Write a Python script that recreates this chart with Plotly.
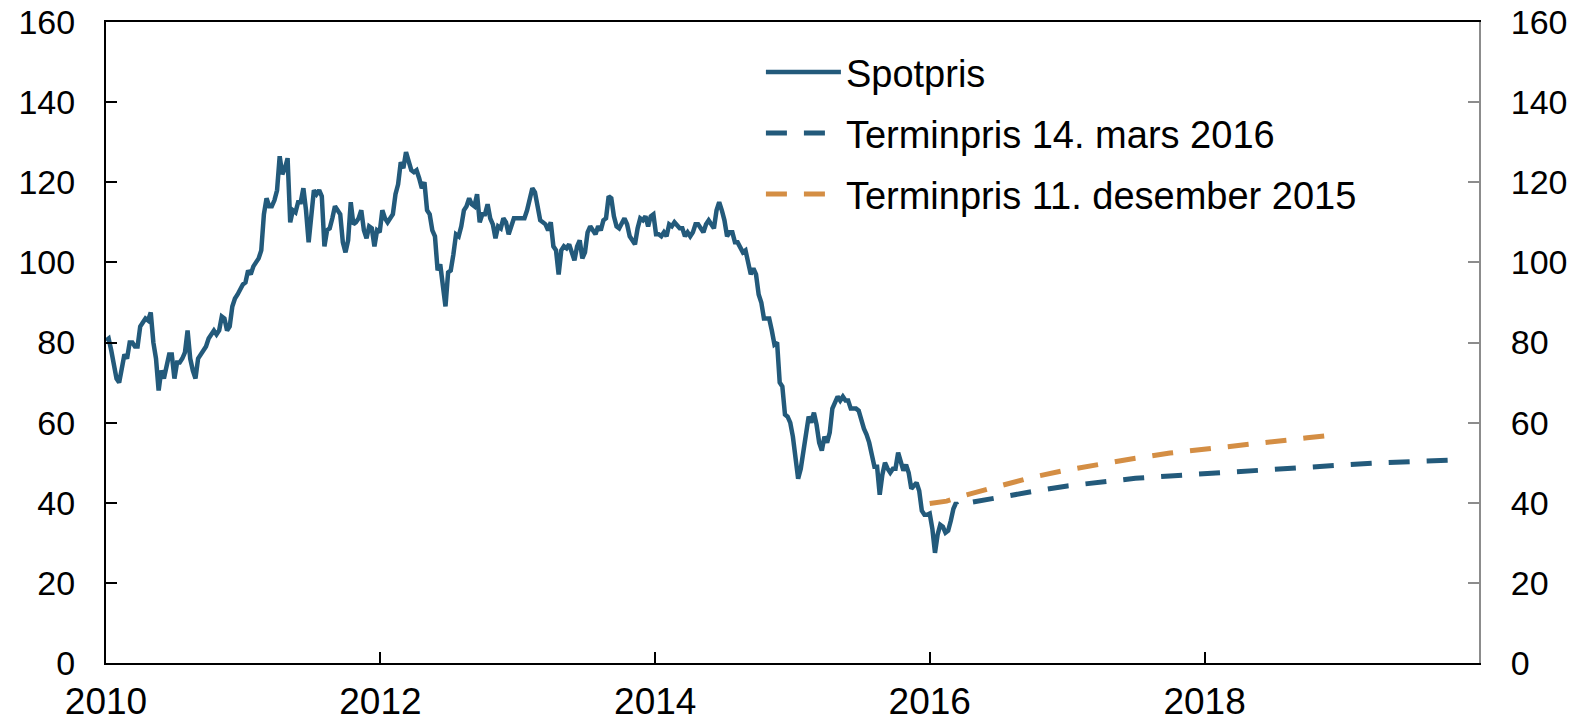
import pandas as pd
import plotly.graph_objects as go

# ---------------- data (weekly readings of the spot line) ----------------
spot_2010 = [80.5, 81, 78, 74, 71, 70, 74, 77, 76, 80, 80, 79, 79, 84, 85, 86, 85.5, 87.5,
             80, 76, 68, 73, 71, 74, 77, 77, 71, 75, 75, 76, 77.5, 83, 76, 73, 71,
             76, 77, 78, 79, 81, 82, 83, 82, 83, 86.5, 86, 83, 84, 89, 91, 92, 93.5, 94.5]
spot_2011 = [95, 98, 97, 99, 100, 101, 103, 112, 116, 114, 114, 115.5, 118, 126.5, 122,
             123.5, 126, 110, 113, 112.5, 115, 115, 118.5, 113, 105, 111, 118, 117, 118,
             116.5, 104, 108, 108.5, 111, 114, 113, 112, 105, 102.5, 105.5, 115, 109.5,
             110, 111, 113, 108, 106, 109, 108.5, 104, 108, 107.5]
spot_2012 = [113, 111, 110, 111, 112, 117, 119.5, 125, 123.5, 127.5, 125, 123, 122.5, 123,
             121, 118.5, 120, 113, 112, 108, 106.5, 98, 99.5, 95, 89, 97.5, 98, 102, 107,
             106.5, 109, 113, 114, 116, 114.5, 114, 117, 110, 112, 112, 114.5, 111, 109.5,
             106, 109, 108.5, 111, 110, 107, 109, 111, 111]
spot_2013 = [111, 111, 111, 113, 116, 118.5, 117.5, 114, 110.5, 110, 109.5, 108, 110, 104,
             103, 97, 103, 104, 103.5, 104.5, 102.5, 100.5, 104, 105.5, 101, 102.5, 107.5,
             109, 108, 107, 109, 108, 110.5, 111, 116.5, 116, 111.5, 109, 108.5, 109.5, 111,
             109.5, 106.5, 105.5, 104.5, 108.5, 111, 110.5, 111.5, 109, 111.5, 112]
spot_2014 = [107, 107, 106.5, 107.5, 106.5, 109.5, 109, 110, 109, 108.5, 108.5, 106.5,
             107.5, 106.5, 107.5, 109.5, 109.5, 108.5, 107.5, 109.5, 110.5, 109.5, 108.5,
             113, 115, 113, 110.5, 106.5, 107.5, 107.5, 105, 105, 103.5, 102.5, 103, 100.5,
             97, 98.5, 97, 92, 90, 86, 86, 86, 83, 79.5, 80, 70, 69, 62, 61.5, 60]
spot_2015 = [56.5, 50, 46, 48.5, 52.5, 57.5, 61.5, 60, 62.5, 59.5, 55, 53, 56.5, 55, 57.5,
             63.5, 65, 66.5, 65.5, 66.5, 65.5, 65.5, 63.5, 63.5, 63.5, 63, 60.5, 58.5, 57,
             55, 52, 49, 49, 42, 47, 50, 48.5, 47.5, 48.5, 48.5, 52.5, 50.5, 48, 49.5,
             47.5, 43.5, 44.5, 45, 43, 38, 37, 37]
spot_2016 = [37.3, 33.5, 27.5, 32, 34.5, 34, 32.5, 33, 35.5, 38.5, 40]
spot_first_fridays = ["2010-01-01", "2011-01-07", "2012-01-06", "2013-01-04",
                      "2014-01-03", "2015-01-02", "2016-01-01"]
spot_last = ("2016-03-14", 39.5)

termin_mar16_dates = ["2016-04-25", "2016-07-01", "2016-10-01", "2017-01-01", "2017-04-01",
                      "2017-07-01", "2017-10-01", "2018-01-01", "2018-04-01", "2018-07-01",
                      "2018-10-01", "2019-01-01", "2019-04-01", "2019-07-01", "2019-10-31"]
termin_mar16 = [40.2, 41.4, 42.8, 44.2, 45.3, 46.1, 46.7, 47.3, 47.9, 48.4, 48.9, 49.4,
                49.9, 50.3, 50.7]

termin_des15_dates = ["2016-01-01", "2016-02-15", "2016-04-01", "2016-07-01", "2016-10-01",
                      "2017-01-01", "2017-04-01", "2017-07-01", "2017-10-01", "2018-01-01",
                      "2018-04-01", "2018-07-01", "2018-10-01", "2018-11-20"]
termin_des15 = [39.8, 40.4, 41.8, 44.2, 46.4, 48.2, 49.8, 51.1, 52.4, 53.4, 54.5, 55.4,
                56.2, 56.7]

x_tick_vals = ["2010-01-01", "2012-01-01", "2014-01-01", "2016-01-01", "2018-01-01"]
x_tick_text = ["2010", "2012", "2014", "2016", "2018"]
y_ticks = [0, 20, 40, 60, 80, 100, 120, 140, 160]

# ---------------- build spot series ----------------
spot_years = [spot_2010, spot_2011, spot_2012, spot_2013, spot_2014, spot_2015, spot_2016]
spot_x, spot_y = [], []
for start, vals in zip(spot_first_fridays, spot_years):
    spot_x += list(pd.date_range(start, periods=len(vals), freq="7D"))
    spot_y += vals
spot_x.append(pd.Timestamp(spot_last[0]))
spot_y.append(spot_last[1])

BLUE = "#235a7b"
ORANGE = "#d48e44"
FONT = "Liberation Sans, Arial, sans-serif"

fig = go.Figure()
fig.add_trace(go.Scatter(x=spot_x, y=spot_y, mode="lines", name="Spotpris",
                         line=dict(color=BLUE, width=4.5), legendgroup="a"))
fig.add_trace(go.Scatter(x=pd.to_datetime(termin_mar16_dates), y=termin_mar16, mode="lines",
                         name="Terminpris 14. mars 2016", yaxis="y2",
                         line=dict(color=BLUE, width=5, dash="21px,17px"), legendgroup="b"))
fig.add_trace(go.Scatter(x=pd.to_datetime(termin_des15_dates), y=termin_des15, mode="lines",
                         name="Terminpris 11. desember 2015", yaxis="y2",
                         line=dict(color=ORANGE, width=5, dash="21px,17px"), legendgroup="c"))

fig.update_layout(
    width=1585, height=724,
    margin=dict(l=106, r=106, t=22, b=61),
    paper_bgcolor="white", plot_bgcolor="white",
    font=dict(family=FONT, color="black"),
    showlegend=True,
    legend=dict(x=0.477, y=0.9705, xanchor="left", yanchor="top",
                font=dict(size=38, family=FONT, color="black"),
                bgcolor="rgba(0,0,0,0)", borderwidth=0,
                itemwidth=75, tracegroupgap=8.5),
    xaxis=dict(type="date", range=["2010-01-01", "2020-01-01"],
               tickvals=x_tick_vals, ticktext=x_tick_text,
               ticks="inside", ticklen=11, tickwidth=2, tickcolor="black",
               showline=True, linecolor="black", linewidth=2, mirror=True,
               showgrid=False, zeroline=False, automargin=False,
               tickfont=dict(size=37, family=FONT, color="black"),
               ticklabelstandoff=5),
    yaxis=dict(range=[0, 160], tickvals=y_ticks,
               ticks="inside", ticklen=11, tickwidth=2, tickcolor="black",
               showline=True, linecolor="black", linewidth=2,
               showgrid=False, zeroline=False, automargin=False,
               tickfont=dict(size=34, family=FONT, color="black"),
               ticklabelstandoff=22),
    yaxis2=dict(range=[0, 160], tickvals=y_ticks, overlaying="y", side="right",
                ticks="inside", ticklen=11, tickwidth=2, tickcolor="#8c8c8c",
                showline=True, linecolor="#8c8c8c", linewidth=2,
                showgrid=False, zeroline=False, automargin=False,
                tickfont=dict(size=34, family=FONT, color="black"),
                ticklabelstandoff=23),
)

fig.write_html("out.html", config={"displayModeBar": False},
               post_script="document.body.style.margin='0';document.body.style.overflow='hidden';")
